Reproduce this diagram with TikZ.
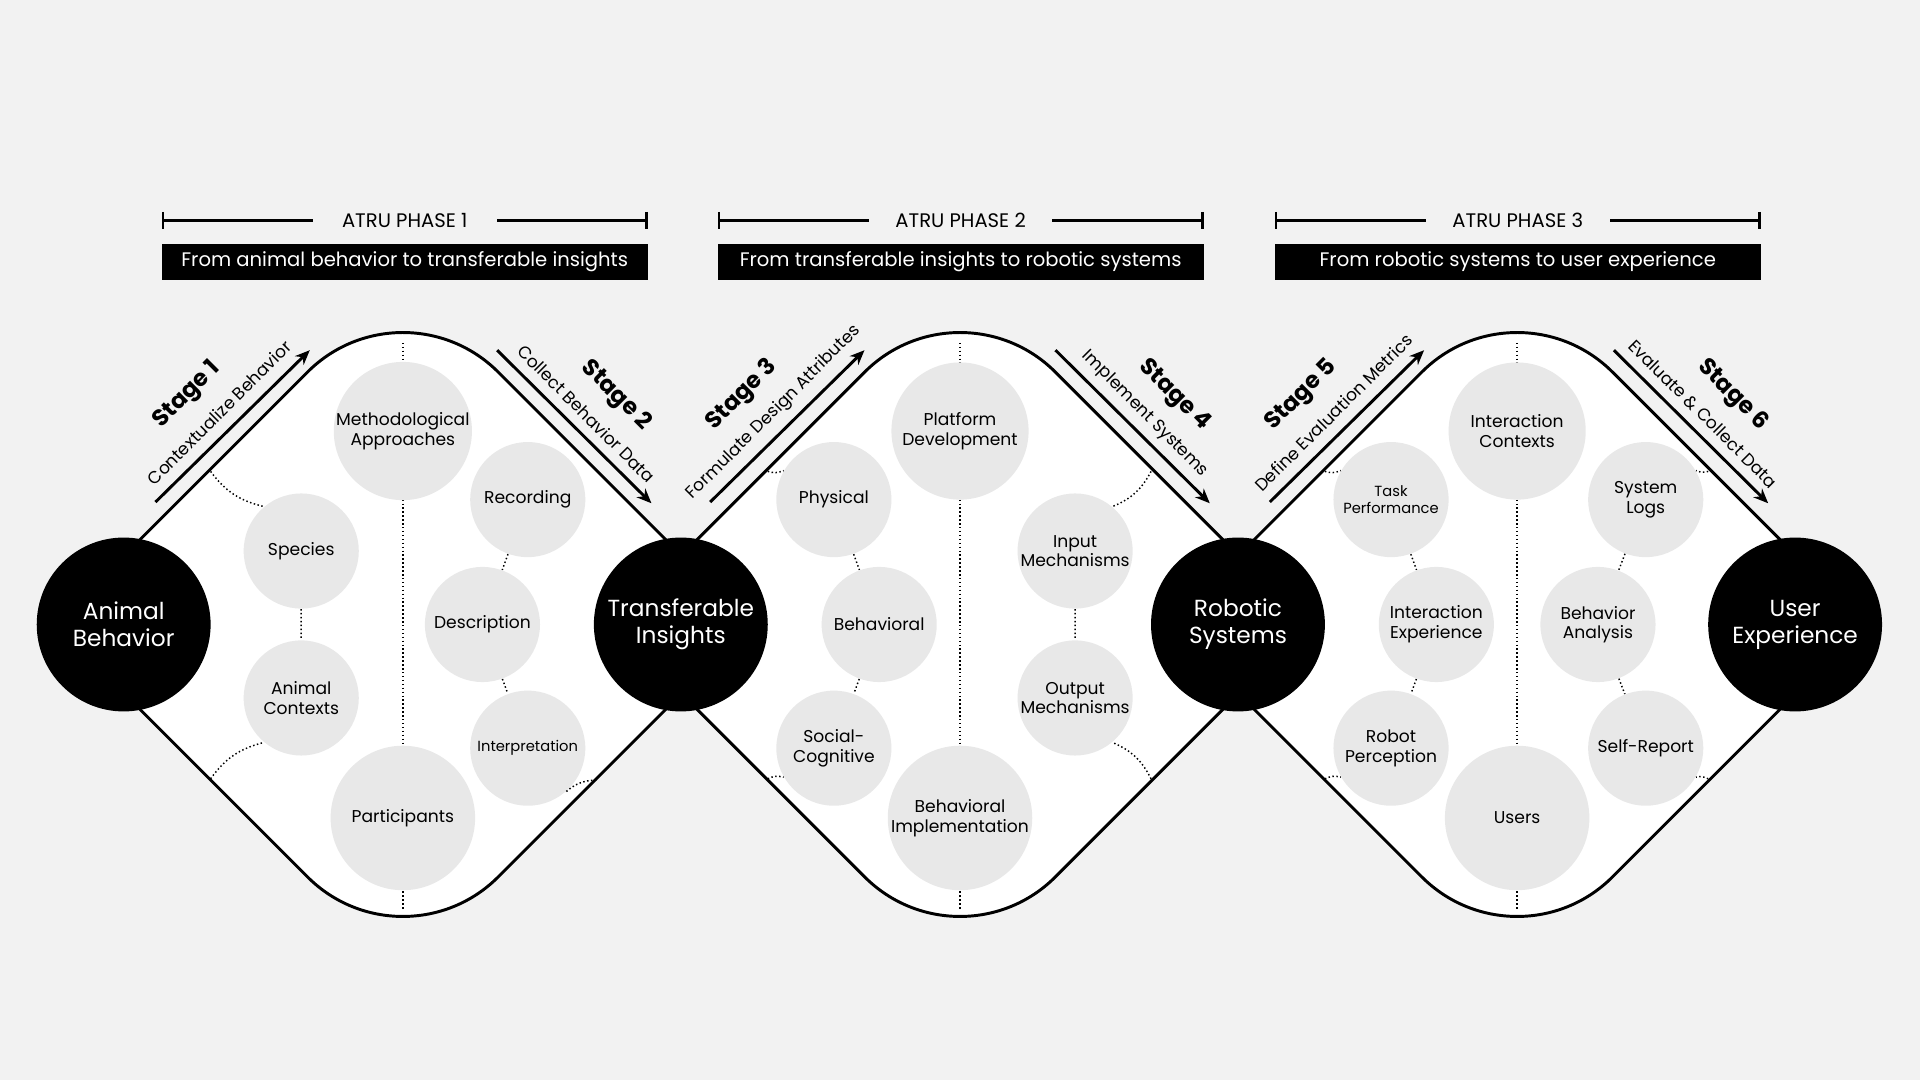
\documentclass[tikz,border=0pt]{standalone}
\usepackage{fontspec}
\setmainfont{Poppins}
\usetikzlibrary{arrows.meta}
\definecolor{bg}{HTML}{F2F2F2}
\definecolor{cg}{HTML}{E8E8E8}
\begin{document}
\begin{tikzpicture}[x=0.5pt,y=-0.5pt,
  big/.style={circle,fill=black,minimum size=71pt,inner sep=0pt,text=white,font=\fontsize{9.5}{11}\selectfont,align=center},
  sm/.style={circle,fill=cg,minimum size=47pt,inner sep=0pt,align=center,font=\fontsize{7}{8}\selectfont},
  md/.style={circle,fill=cg,minimum size=56pt,inner sep=0pt,align=center,font=\fontsize{7}{8}\selectfont},
  lg/.style={circle,fill=cg,minimum size=59pt,inner sep=0pt,align=center,font=\fontsize{7}{8}\selectfont},
  dot/.style={densely dotted,line width=0.6pt},
  stg/.style={-{Stealth[length=6pt,width=5pt]},line width=1.2pt},
  stt/.style={font=\bfseries\fontsize{9.5}{10}\selectfont,inner sep=1pt},
  sub/.style={font=\fontsize{7}{8}\selectfont,inner sep=1pt},
  box/.style={fill=black,text=white,minimum width=198.5pt,minimum height=15pt,inner sep=0pt,font=\fontsize{8}{9}\selectfont},
  ph/.style={fill=bg,inner sep=4pt,font=\fontsize{8}{9}\selectfont}]
\fill[bg] (0,0) rectangle (1568,882);
\useasboundingbox (0,0) rectangle (1568,882);
% phases
\foreach \a/\n/\t [count=\i] in {133/1/From animal behavior to transferable insights,587/2/From transferable insights to robotic systems,1042/3/From robotic systems to user experience}{
  \coordinate (pl\i) at (\a,180); \coordinate (pr\i) at (\a+395,180);
  \draw[line width=1pt] (pl\i) -- (pr\i);
  \draw[line width=1pt] (\a,173) -- (\a,187) (\a+395,173) -- (\a+395,187);
  \node[ph,minimum width=75pt] (ph\i) at (\a+197.5,180) {ATRU PHASE \n};
  \node[box] (bx\i) at (\a+197.5,214) {\t};
}
% diamonds
\foreach \c in {329,784,1239}{
  \fill[white,rounded corners=55pt] (\c-284,510) -- (\c,226) -- (\c+284,510) -- (\c,794) -- cycle;
  \draw[line width=1.2pt,rounded corners=55pt] (\c-284,510) -- (\c,226) -- (\c+284,510);
  \draw[line width=1.2pt,rounded corners=55pt] (\c-284,510) -- (\c,794) -- (\c+284,510);
  \draw[dot] (\c,280) -- (\c,742);
}
% edge points
\foreach \n/\x/\y in {a/172/385,b/172/636,c/487/637,d/627/385,e/627/636,f/940/385,g/940/636,h/1082/385,i/1082/636,j/1395/385,k/1395/636}{\coordinate (e\n) at (\x,\y);}
% inner circles diamond 1
\node[md] (ma) at (329,352) {Methodological\\Approaches};
\node[lg] (pa) at (329,668) {Participants};
\node[sm] (sp) at (246,450) {Species};
\node[sm] (ac) at (246,570) {Animal\\Contexts};
\node[sm] (re) at (431,408) {Recording};
\node[sm] (de) at (394,510) {Description};
\node[sm,font=\fontsize{6}{7}\selectfont] (in) at (431,611) {Interpretation};
% diamond 2
\node[md] (pd) at (784,352) {Platform\\Development};
\node[lg] (bi) at (784,668) {Behavioral\\Implementation};
\node[sm] (phy) at (681,408) {Physical};
\node[sm] (beh) at (718,510) {Behavioral};
\node[sm] (soc) at (681,611) {Social-\\Cognitive};
\node[sm] (im) at (878,450) {Input\\Mechanisms};
\node[sm] (om) at (878,570) {Output\\Mechanisms};
% diamond 3
\node[md] (ic) at (1239,352) {Interaction\\Contexts};
\node[lg] (us) at (1239,668) {Users};
\node[sm,font=\fontsize{6}{7}\selectfont] (tp) at (1136,408) {Task\\Performance};
\node[sm] (ie) at (1173,510) {Interaction\\Experience};
\node[sm] (rp) at (1136,611) {Robot\\Perception};
\node[sm] (sl) at (1344,408) {System\\Logs};
\node[sm] (ba) at (1305,510) {Behavior\\Analysis};
\node[sm] (sr) at (1344,611) {Self-Report};
% dotted links
\draw[dot] (sp) -- (ac) (re) -- (de) (de) -- (in) (phy) -- (beh) (beh) -- (soc) (im) -- (om)
  (tp) -- (ie) (ie) -- (rp) (sl) -- (ba) (ba) -- (sr);
\draw[dot] (ea) to[bend right=20] (sp.130);
\draw[dot] (eb) to[bend left=20] (ac.230);
\draw[dot] (ec) to[bend right=20] (in.-50);
\draw[dot] (ed) to[bend right=20] (phy.150);
\draw[dot] (ee) to[bend left=20] (soc.210);
\draw[dot] (ef) to[bend left=20] (im.50);
\draw[dot] (eg) to[bend right=20] (om.-50);
\draw[dot] (eh) to[bend right=20] (tp.150);
\draw[dot] (ei) to[bend left=20] (rp.210);
\draw[dot] (ej) to[bend left=20] (sl.30);
\draw[dot] (ek) to[bend right=20] (sr.-30);
% big circles
\node[big] (ab) at (101,510) {Animal\\Behavior};
\node[big] (ti) at (556,510) {Transferable\\Insights};
\node[big] (rs) at (1011,510) {Robotic\\Systems};
\node[big] (ux) at (1466,510) {User\\Experience};
% stage arrows
\foreach \x/\n/\t [count=\i] in {127/1/Contextualize Behavior,580/3/Formulate Design Attributes,1037/5/Define Evaluation Metrics}{
  \coordinate (s\n a) at (\x,410); \coordinate (s\n b) at (\x+126,286);
  \draw[stg] (s\n a) -- (s\n b);
  \node[sub,rotate=45] (st\n) at (\x+52,337) {\t};
  \node[stt,rotate=45] (sn\n) at (\x+26,323) {Stage \n};
}
\foreach \x/\n/\t [count=\i] in {406/2/Collect Behavior Data,862/4/Implement Systems,1318/6/Evaluate \& Collect Data}{
  \coordinate (s\n a) at (\x,286); \coordinate (s\n b) at (\x+126,411);
  \draw[stg] (s\n a) -- (s\n b);
  \node[sub,rotate=-45] (st\n) at (\x+73,338) {\t};
  \node[stt,rotate=-45] (sn\n) at (\x+97,323) {Stage \n};
}
\end{tikzpicture}
\end{document}
